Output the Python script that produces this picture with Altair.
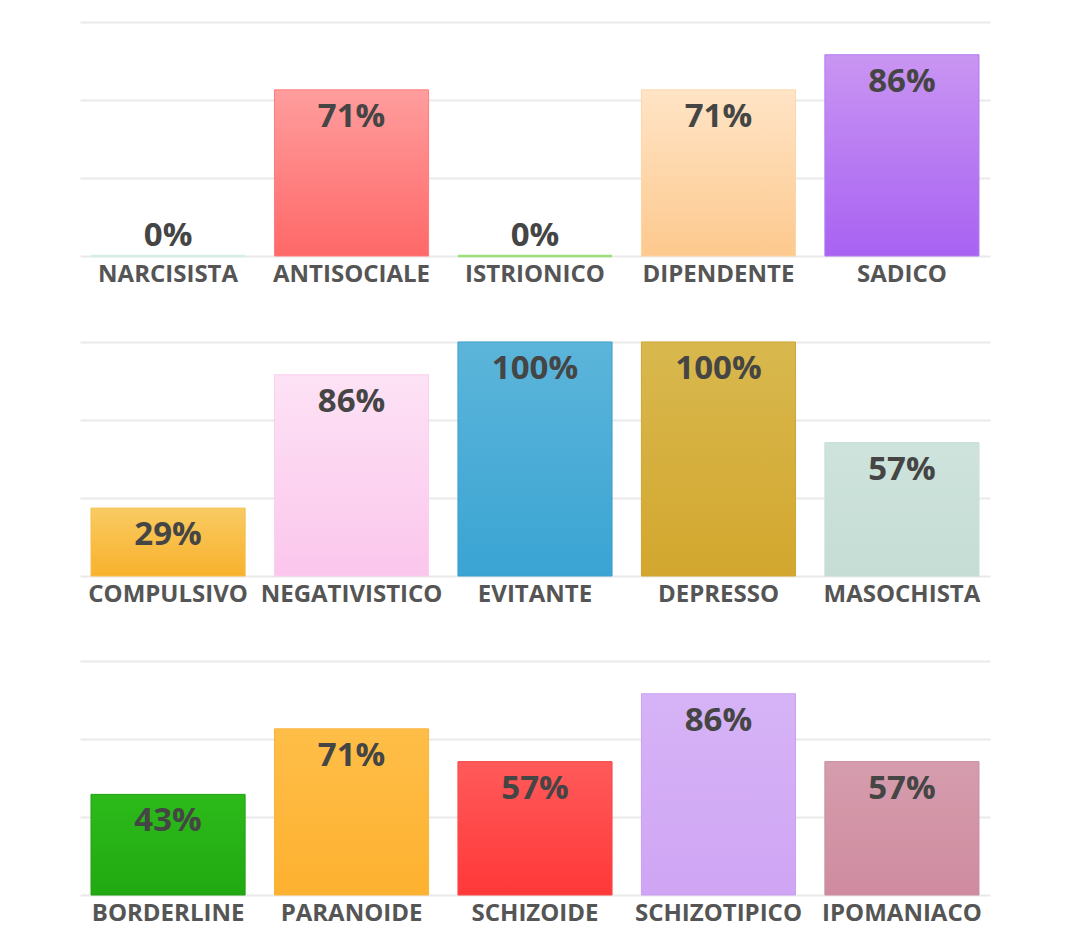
import altair as alt
import pandas as pd

# ---- data ----
row1_cats = ["NARCISISTA", "ANTISOCIALE", "ISTRIONICO", "DIPENDENTE", "SADICO"]
row1_vals = [0, 71, 0, 71, 86]
row2_cats = ["COMPULSIVO", "NEGATIVISTICO", "EVITANTE", "DEPRESSO", "MASOCHISTA"]
row2_vals = [29, 86, 100, 100, 57]
row3_cats = ["BORDERLINE", "PARANOIDE", "SCHIZOIDE", "SCHIZOTIPICO", "IPOMANIACO"]
row3_vals = [43, 71, 57, 86, 57]

# gradient colours per category: (top, bottom, edge)
palette = {
    "NARCISISTA": ("#d9f2ea", "#cdeee2", "#d6efe6"),
    "ANTISOCIALE": ("#ff9d9d", "#ff6868", "#ff7c7c"),
    "ISTRIONICO": ("#a8e88c", "#8fdc70", "#98e07a"),
    "DIPENDENTE": ("#ffe4c6", "#fdc98e", "#fdd6a8"),
    "SADICO": ("#c995f2", "#a862f2", "#b27af0"),
    "COMPULSIVO": ("#f9cb62", "#f8b12c", "#f6bd48"),
    "NEGATIVISTICO": ("#fde2f5", "#fbc6ec", "#f9d0ef"),
    "EVITANTE": ("#5cb5da", "#3aa4d3", "#3e9fcc"),
    "DEPRESSO": ("#d8b84e", "#d3a72e", "#cfa534"),
    "MASOCHISTA": ("#cde3dc", "#c6ddd5", "#c8dfd7"),
    "BORDERLINE": ("#2cba1a", "#22a912", "#1f9f10"),
    "PARANOIDE": ("#ffbe48", "#feb130", "#f9b33c"),
    "SCHIZOIDE": ("#ff5a5a", "#ff3838", "#f84848"),
    "SCHIZOTIPICO": ("#d6b3f6", "#cfa5f4", "#c9a0f2"),
    "IPOMANIACO": ("#d59dad", "#cf8b9f", "#c98ea0"),
}

grid_vals = [0, 100 / 3, 200 / 3, 100]
FONT = "Open Sans"
ROW_W = 910
ROW_H = 234


def make_row(cats, vals):
    df = pd.DataFrame({"cat": cats, "value": vals})
    df["label"] = df["value"].astype(str) + "%"
    base = alt.Chart(df)
    x = alt.X(
        "cat:N",
        sort=cats,
        scale=alt.Scale(paddingInner=0.16, paddingOuter=0.06),
        axis=alt.Axis(
            title=None,
            labelAngle=0,
            labelFont=FONT,
            labelFontSize=24,
            labelFontWeight="bold",
            labelColor="#555555",
            labelPadding=6,
            labelOverlap=False,
            labelBound=False,
            labelLimit=0,
            domain=False,
            ticks=False,
        ),
    )
    y = alt.Y(
        "value:Q",
        scale=alt.Scale(domain=[0, 100], nice=False),
        axis=alt.Axis(
            title=None,
            values=grid_vals,
            labels=False,
            ticks=False,
            domain=False,
            grid=True,
            gridColor="#e9e9e9",
            gridWidth=2,
        ),
    )
    layers = []
    for c in cats:
        top, bot, edge = palette[c]
        grad = alt.Gradient(
            gradient="linear",
            stops=[
                alt.GradientStop(color=top, offset=0),
                alt.GradientStop(color=bot, offset=1),
            ],
            x1=0, x2=0, y1=0, y2=1,
        )
        layers.append(
            base.transform_filter(alt.datum.cat == c)
            .mark_bar(color=grad, stroke=edge)
            .encode(
                x=x,
                y=y,
                strokeWidth=alt.condition(alt.datum.value == 0, alt.value(2.5), alt.value(1)),
            )
        )
    inside = (
        base.transform_filter(alt.datum.value > 0)
        .mark_text(font=FONT, fontSize=33, fontWeight="bold", color="#454545",
                   baseline="alphabetic", dy=37)
        .encode(x=x, y=y, text="label:N")
    )
    above = (
        base.transform_filter(alt.datum.value == 0)
        .mark_text(font=FONT, fontSize=33, fontWeight="bold", color="#454545",
                   baseline="alphabetic", dy=-10)
        .encode(x=x, y=y, text="label:N")
    )
    return alt.layer(*layers, inside, above).properties(width=ROW_W, height=ROW_H)


chart = (
    alt.vconcat(
        make_row(row1_cats, row1_vals),
        make_row(row2_cats, row2_vals),
        make_row(row3_cats, row3_vals),
        spacing=55,
    )
    .resolve_scale(x="independent")
    .properties(padding={"left": 80, "top": 22, "right": 10, "bottom": 5}, background="white")
    .configure_view(stroke=None)
)

chart.save("out.html", embed_options={"renderer": "svg", "actions": False})
